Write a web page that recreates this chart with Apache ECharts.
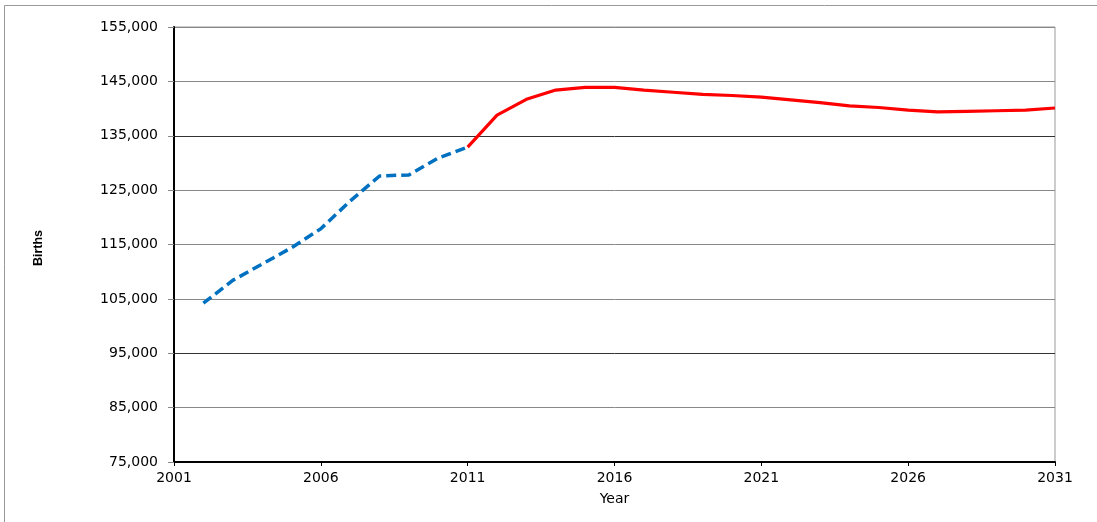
<!DOCTYPE html>
<html><head><meta charset="utf-8">
<script src="https://cdn.jsdelivr.net/npm/echarts@6/dist/echarts.min.js"></script>
<style>html,body{margin:0;padding:0;background:#fff}#c{width:1097px;height:522px}</style>
</head><body><div id="c"></div>
<script>
const estYears = [2002,2003,2004,2005,2006,2007,2008,2009,2010,2011];
const estBirths = [104200,108400,111400,114400,117900,123000,127600,127800,130900,132900];
const projYears = [2011,2012,2013,2014,2015,2016,2017,2018,2019,2020,2021,2022,2023,2024,2025,2026,2027,2028,2029,2030,2031];
const projBirths = [132900,138800,141700,143400,143900,143900,143400,143000,142600,142400,142100,141600,141100,140500,140200,139700,139400,139500,139600,139700,140100];

const chart = echarts.init(document.getElementById('c'));
const font = 'DejaVu Sans, Verdana, sans-serif';
chart.setOption({
  animation:false,
  graphic:[
    {type:'rect',shape:{x:4.5,y:5.5,width:1200,height:600},style:{fill:'none',stroke:'#999',lineWidth:1},silent:true},
    {type:'text',x:39,y:248,rotation:Math.PI/2,style:{text:'Births',fontFamily:'Liberation Sans, Arial, sans-serif',fontSize:12.5,fontWeight:'bold',fill:'#000',align:'center',verticalAlign:'middle'}}
  ],
  grid:{left:174,right:42,top:27,bottom:60,show:true,borderColor:'#999',borderWidth:1},
  xAxis:{type:'value',min:2001,max:2031,interval:5,name:'Year',nameLocation:'middle',nameGap:30,
    nameTextStyle:{fontFamily:font,fontSize:14,color:'#000'},
    axisLine:{lineStyle:{color:'#000',width:2}},
    axisTick:{show:true,length:4,lineStyle:{color:'#000'}},
    axisLabel:{fontFamily:font,fontSize:14,color:'#000',margin:9,formatter:v=>String(v)},
    splitLine:{show:false}},
  yAxis:{type:'value',min:75000,max:155000,interval:10000,
    axisLine:{show:true,lineStyle:{color:'#000',width:2}},
    axisTick:{show:true,length:6,lineStyle:{color:'#888'}},
    axisLabel:{fontFamily:font,fontSize:14,color:'#000',margin:16,formatter:v=>v.toLocaleString('en-US')},
    splitLine:{show:true,lineStyle:{color:['#888','#888','#333','#888'],width:1}}},
  series:[
    {type:'line',data:estYears.map((y,i)=>[y,estBirths[i]]),showSymbol:false,
      lineStyle:{color:'#0070C0',width:3.5,type:[10,5]},z:3},
    {type:'line',data:projYears.map((y,i)=>[y,projBirths[i]]),showSymbol:false,
      lineStyle:{color:'#FF0000',width:3.2},z:4}
  ]
});
</script></body></html>
